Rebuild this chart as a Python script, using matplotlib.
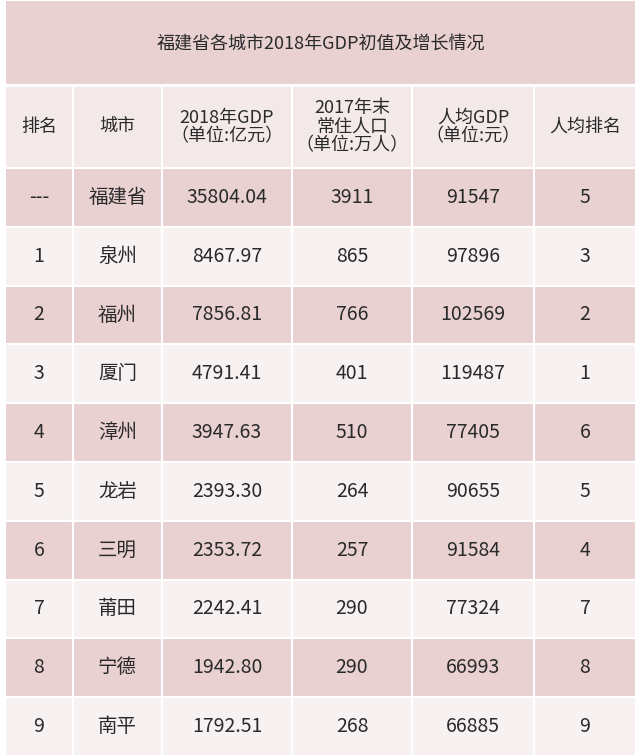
import matplotlib
matplotlib.use("Agg")
import matplotlib.pyplot as plt
from matplotlib.patches import Rectangle

plt.rcParams['font.family'] = ['Noto Sans CJK SC']

title = "福建省各城市2018年GDP初值及增长情况"
headers = ["排名", "城市", "2018年GDP\n（单位:亿元）", "2017年末\n常住人口\n（单位:万人）", "人均GDP\n（单位:元）", "人均排名"]
ranks = ["---", "1", "2", "3", "4", "5", "6", "7", "8", "9"]
cities = ["福建省", "泉州", "福州", "厦门", "漳州", "龙岩", "三明", "莆田", "宁德", "南平"]
gdp = ["35804.04", "8467.97", "7856.81", "4791.41", "3947.63", "2393.30", "2353.72", "2242.41", "1942.80", "1792.51"]
pop = ["3911", "865", "766", "401", "510", "264", "257", "290", "290", "268"]
per_gdp = ["91547", "97896", "102569", "119487", "77405", "90655", "91584", "77324", "66993", "66885"]
per_rank = ["5", "3", "2", "1", "6", "5", "4", "7", "8", "9"]

W, H = 640, 756
fig = plt.figure(figsize=(W/100, H/100), dpi=100)
ax = fig.add_axes([0, 0, 1, 1])
ax.set_xlim(0, W); ax.set_ylim(H, 0); ax.axis('off')

xs = [5, 73, 162, 292, 412, 534, 636]
pink, light, head = "#e9d1d2", "#f7f1f1", "#f3e9e9"
txt = "#2a2a2a"
lw = 1.5
ax.add_patch(Rectangle((xs[0], 0), xs[-1]-xs[0], 85, fc=pink, ec="white", lw=lw))
ax.text((xs[0]+xs[-1])/2, 45, title, ha='center', va='center', fontsize=13, color=txt)
y0, hh = 86, 82
for i, h in enumerate(headers):
    ax.add_patch(Rectangle((xs[i], y0), xs[i+1]-xs[i], hh, fc=head, ec="white", lw=lw))
    ax.text((xs[i]+xs[i+1])/2, y0+hh/2, h, ha='center', va='center', fontsize=13, color=txt, linespacing=1.05)
rh = (H - (y0+hh)) / len(cities)
cols = [ranks, cities, gdp, pop, per_gdp, per_rank]
for r in range(len(cities)):
    y = y0 + hh + r*rh
    fc = pink if r % 2 == 0 else light
    for c in range(6):
        ax.add_patch(Rectangle((xs[c], y), xs[c+1]-xs[c], rh, fc=fc, ec="white", lw=lw))
        ax.text((xs[c]+xs[c+1])/2, y+rh/2, cols[c][r], ha='center', va='center', fontsize=14, color=txt)
fig.savefig("out.png", dpi=100)
